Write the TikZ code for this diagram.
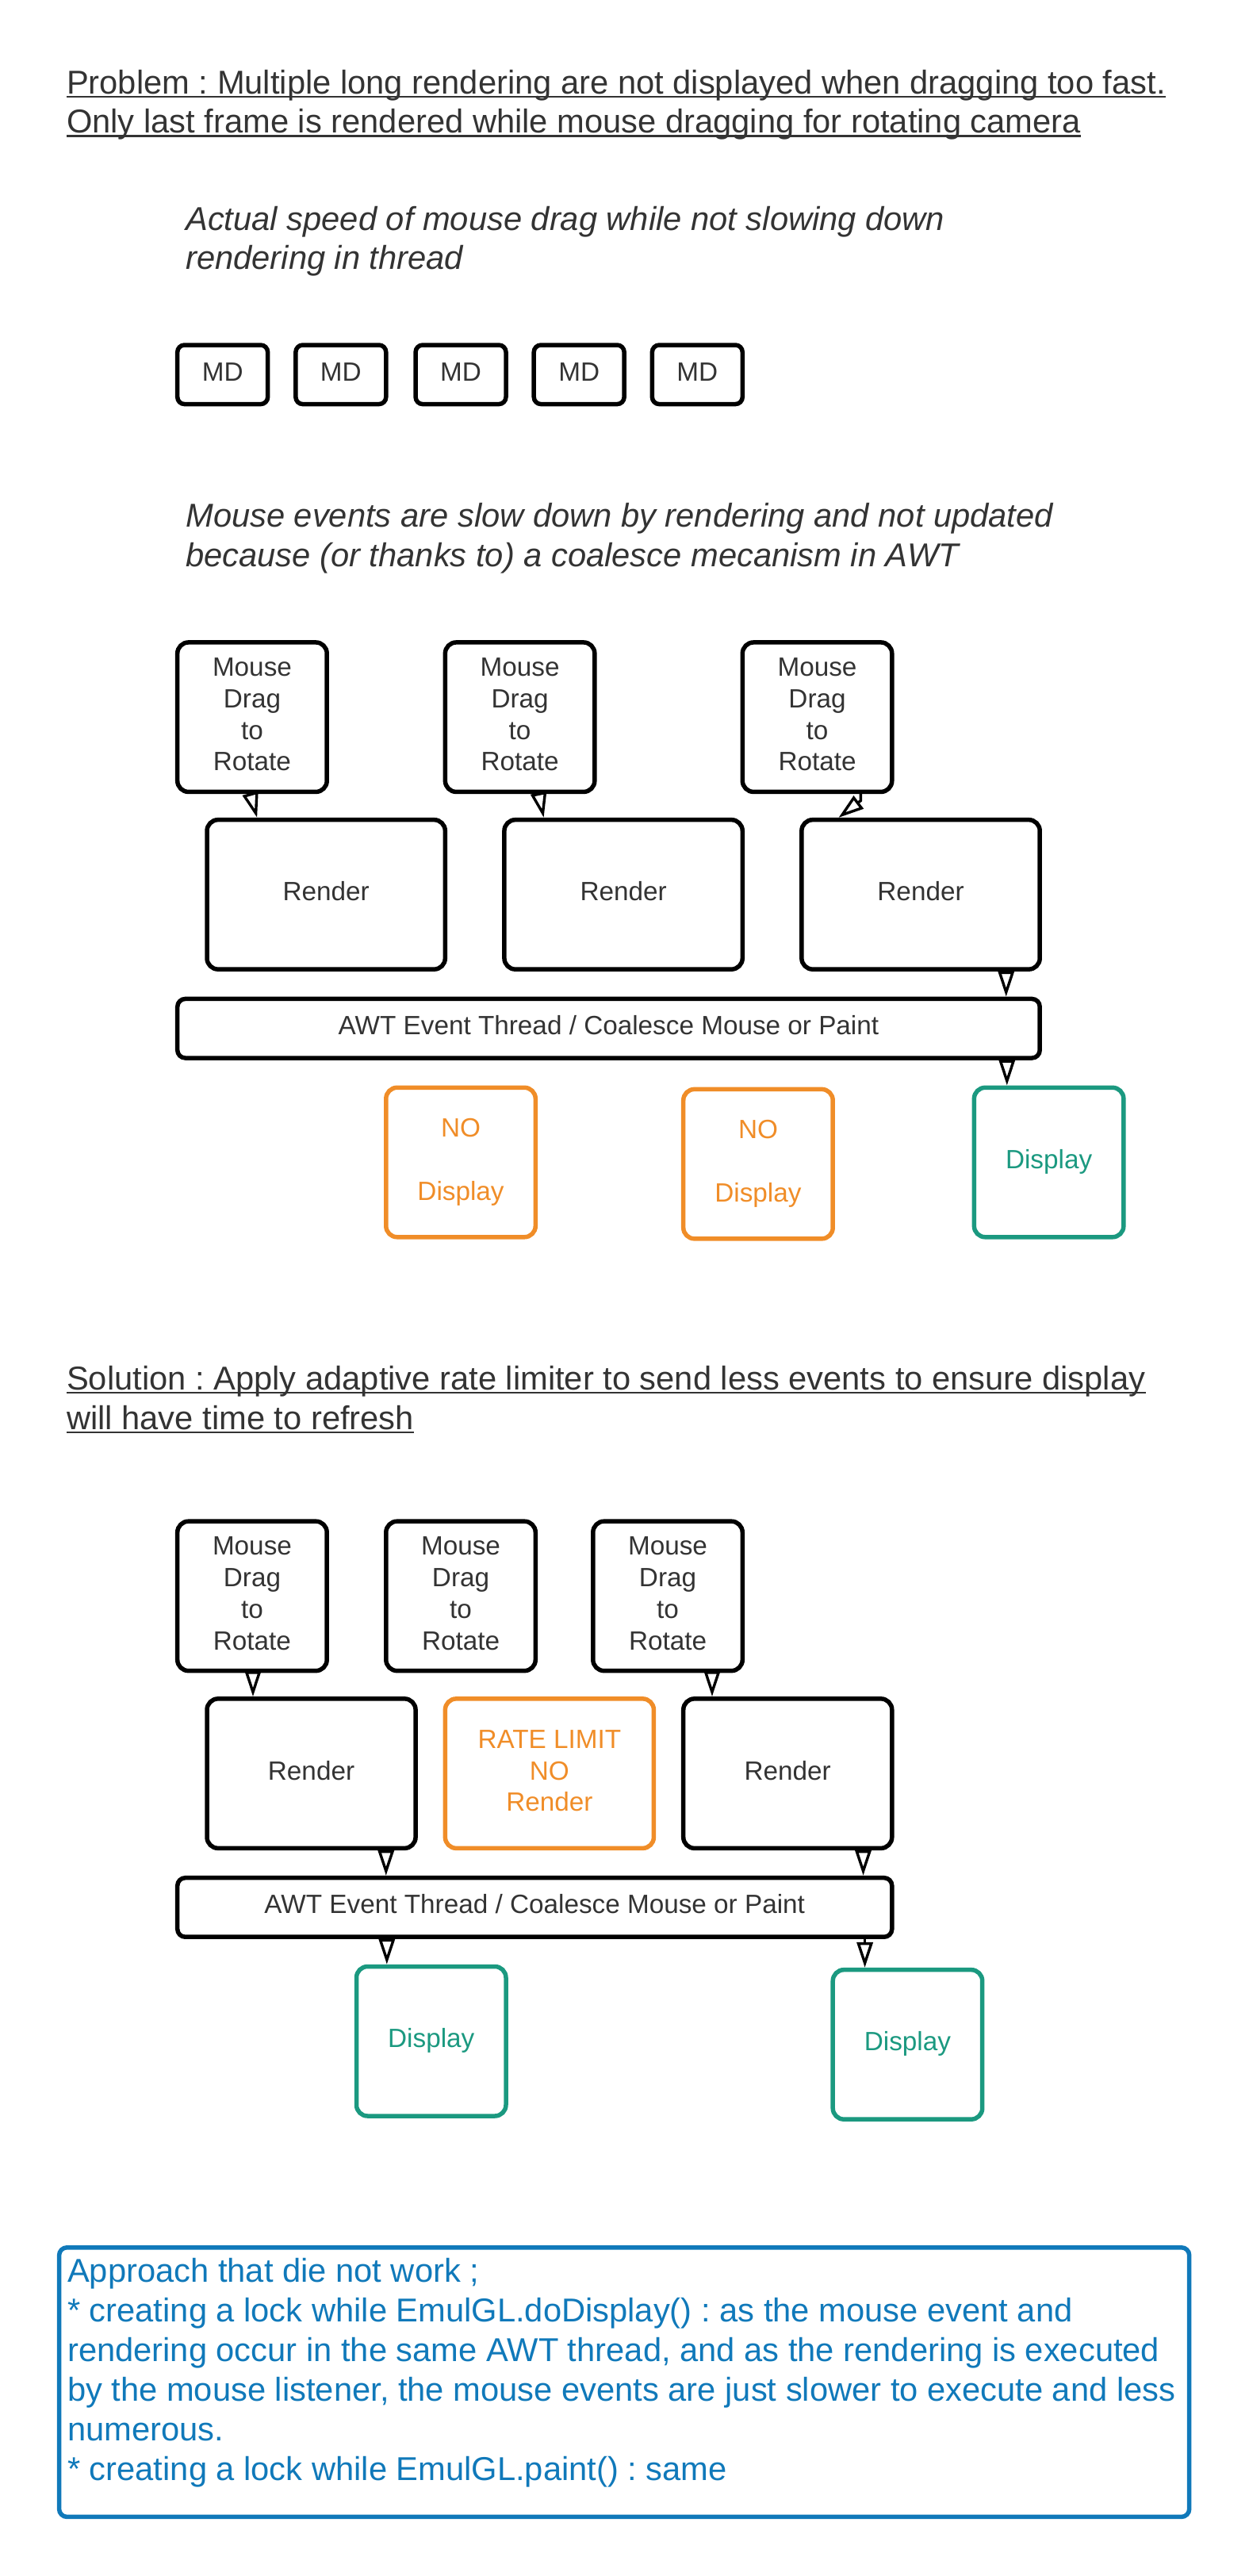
\documentclass[tikz,border=0pt]{standalone}
\usepackage{fontspec}
\setmainfont{Liberation Sans}
\usetikzlibrary{arrows.meta,calc}
\frenchspacing
\definecolor{txt}{HTML}{333333}
\definecolor{org}{RGB}{240,141,40}
\definecolor{grn}{RGB}{27,153,128}
\definecolor{blu}{RGB}{16,121,186}
\newcommand\du{2.072pt}
\newcommand\fsmall{\fontsize{33.3}{39.8}\selectfont}
\newcommand\fbig{\fontsize{41.7}{50}\selectfont}
\begin{document}
\begin{tikzpicture}[x=2.072pt,y=-2.072pt,
  bx/.style={draw=black, line width=5.5pt, rounded corners=14pt, inner sep=0pt, align=center, font=\fsmall, text=txt},
  sq/.style={bx, minimum width=91*\du, minimum height=91*\du},
  md/.style={bx, rounded corners=9pt, minimum width=55*\du, minimum height=36*\du},
  bar/.style={bx, rounded corners=10pt, minimum height=36*\du},
  rend/.style={bx, minimum height=91*\du},
  orgbox/.style={draw=org, text=org},
  grnbox/.style={draw=grn, text=grn},
  ttl/.style={anchor=base west, inner sep=0pt, font=\fbig, text=txt},
  itl/.style={anchor=base west, inner sep=0pt, font=\fbig\itshape, text=txt},
  bl/.style={anchor=base west, inner sep=0pt, font=\fbig, text=blu},
  ul/.style={draw=txt, line width=2.6pt},
  arr/.style={draw=black, line width=3.4pt, -{Triangle[open, length=32pt, width=20pt]}}
]
\useasboundingbox (0,0) rectangle (760,1568);

% ---------- Problem section ----------
\node[ttl] (t1) at (40.5,57) {Problem : Multiple long rendering are not displayed when dragging too fast.};
\node[ttl] (t2) at (40.5,81) {Only last frame is rendered while mouse dragging for rotating camera};
\draw[ul] ($(t1.base west)+(0,1.8)$) -- ($(t1.base east)+(0,1.8)$);
\draw[ul] ($(t2.base west)+(0,1.8)$) -- ($(t2.base east)+(0,1.8)$);

\node[itl] (i1) at (113,140) {Actual speed of mouse drag while not slowing down};
\node[itl] (i2) at (113,164) {rendering in thread};

\node[md] (a1) at (135.5,228) {\strut MD};
\node[md] (a2) at (207.5,228) {\strut MD};
\node[md] (a3) at (280.5,228) {\strut MD};
\node[md] (a4) at (352.5,228) {\strut MD};
\node[md] (a5) at (424.5,228) {\strut MD};

\node[itl] (i3) at (113,321) {Mouse events are slow down by rendering and not updated};
\node[itl] (i4) at (113,345) {because (or thanks to) a coalesce mecanism in AWT};

\node[sq] (m1) at (153.5,436.5) {\strut Mouse\\Drag\\to\\Rotate\strut};
\node[sq] (m2) at (316.5,436.5) {\strut Mouse\\Drag\\to\\Rotate\strut};
\node[sq] (m3) at (497.5,436.5) {\strut Mouse\\Drag\\to\\Rotate\strut};

\node[rend, minimum width=145*\du] (r1) at (198.5,544.5) {\strut Render};
\node[rend, minimum width=145*\du] (r2) at (379.5,544.5) {\strut Render};
\node[rend, minimum width=145*\du] (r3) at (560.5,544.5) {\strut Render};

\node[bar, minimum width=525*\du] (aw1) at (370.5,626) {\strut AWT Event Thread / Coalesce Mouse or Paint};

\node[sq, orgbox] (n1) at (280.5,707.5) {\strut NO\\\mbox{}\\Display\strut};
\node[sq, orgbox] (n2) at (461.5,708.5) {\strut NO\\\mbox{}\\Display\strut};
\node[sq, grnbox] (d0) at (638.5,707.5) {\strut Display};

\draw[arr] ($(m1.south)+(-1,0)$) -- ($(r1.north)+(-42,0)$);
\draw[arr] ($(m2.south)+(11.5,0)$) -- ($(r2.north)+(-48.5,0)$);
\draw[arr] ($(m3.south)+(26.5,0)$) -- ++(0,4) -- ($(r3.north)+(-50,0)$);
\draw[arr] ($(r3.south)+(52,0)$) -- ($(aw1.north)+(242,0)$);
\draw[arr] ($(aw1.south)+(242.5,0)$) -- ($(d0.north)+(-25.5,0)$);

% ---------- Solution section ----------
\node[ttl] (s1) at (40.5,846) {Solution : Apply adaptive rate limiter to send less events to ensure display};
\node[ttl] (s2) at (40.5,870) {will have time to refresh};
\draw[ul] ($(s1.base west)+(0,1.8)$) -- ($(s1.base east)+(0,1.8)$);
\draw[ul] ($(s2.base west)+(0,1.8)$) -- ($(s2.base east)+(0,1.8)$);

\node[sq] (p1) at (153.5,971.5) {\strut Mouse\\Drag\\to\\Rotate\strut};
\node[sq] (p2) at (280.5,971.5) {\strut Mouse\\Drag\\to\\Rotate\strut};
\node[sq] (p3) at (406.5,971.5) {\strut Mouse\\Drag\\to\\Rotate\strut};

\node[rend, minimum width=127*\du] (q1) at (189.5,1079.5) {\strut Render};
\node[rend, orgbox, minimum width=127*\du] (q2) at (334.5,1079.5) {\strut RATE LIMIT\\NO\\Render\strut};
\node[rend, minimum width=127*\du] (q3) at (479.5,1079.5) {\strut Render};

\node[bar, minimum width=435*\du] (aw2) at (325.5,1161) {\strut AWT Event Thread / Coalesce Mouse or Paint};

\node[sq, grnbox] (e1) at (262.5,1242.5) {\strut Display};
\node[sq, grnbox] (e2) at (552.5,1244.5) {\strut Display};

\draw[arr] ($(p1.south)+(0.5,0)$) -- ($(q1.north)+(-35.5,0)$);
\draw[arr] ($(p3.south)+(27,0)$) -- ($(q3.north)+(-46,0)$);
\draw[arr] ($(q1.south)+(45.5,0)$) -- ($(aw2.north)+(-90.5,0)$);
\draw[arr] ($(q3.south)+(46,0)$) -- ($(aw2.north)+(200,0)$);
\draw[arr] ($(aw2.south)+(-90,0)$) -- ($(e1.north)+(-27,0)$);
\draw[arr] ($(aw2.south)+(201,0)$) -- ($(e2.north)+(-26,0)$);

% ---------- Approach box ----------
\node[draw=blu, line width=5.5pt, rounded corners=10pt, minimum width=688*\du, minimum height=164*\du, inner sep=0pt] (ap) at (380,1450) {};
\node[bl] (b1) at (41,1389) {Approach that die not work ;};
\node[bl] (b2) at (41,1413.2) {* creating a lock while EmulGL.doDisplay() : as the mouse event and};
\node[bl] (b3) at (41,1437.4) {rendering occur in the same AWT thread, and as the rendering is executed};
\node[bl] (b4) at (41,1461.6) {by the mouse listener, the mouse events are just slower to execute and less};
\node[bl] (b5) at (41,1485.8) {numerous.};
\node[bl] (b6) at (41,1510) {* creating a lock while EmulGL.paint() : same};
\end{tikzpicture}
\end{document}
